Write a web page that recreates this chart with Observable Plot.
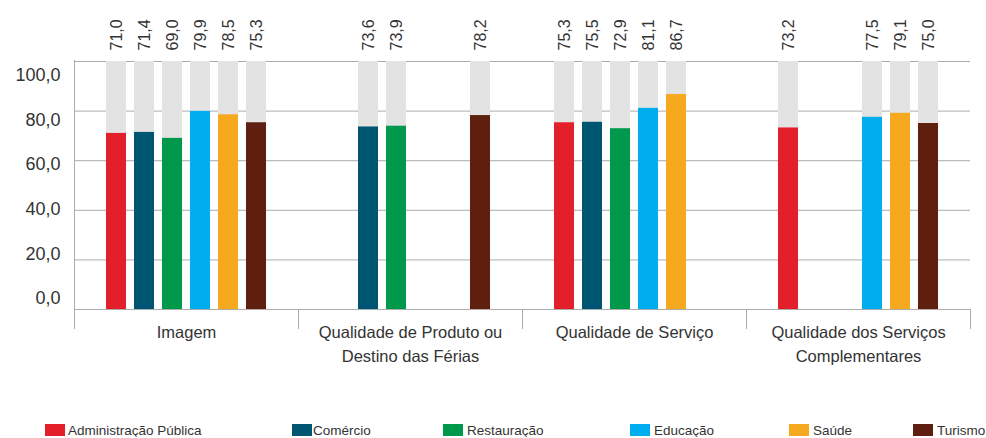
<!DOCTYPE html>
<html>
<head>
<meta charset="utf-8">
<script src="https://cdn.jsdelivr.net/npm/d3@7"></script>
<script src="https://cdn.jsdelivr.net/npm/@observablehq/plot@0.6"></script>
<style>
  body { margin: 0; background: #fff; font-family: "Liberation Sans", Arial, sans-serif; overflow: hidden; }
  #chart { width: 986px; }
  .legend { display: flex; align-items: center; margin: 51px 0 0 45px; font-size: 13.5px; line-height: 13px; color: #333; height: 14px; }
  .legend .item { display: flex; align-items: center; white-space: nowrap; }
  .legend .item:nth-child(1) { width: 247px; }
  .legend .item:nth-child(2) { width: 151px; }
  .legend .item:nth-child(3) { width: 187px; }
  .legend .item:nth-child(4) { width: 159px; }
  .legend .item:nth-child(5) { width: 124px; }
  .legend .sw { width: 20px; height: 12px; margin-right: 4px; display: inline-block; }
  .legend .item:nth-child(1) .sw { margin-right: 3px; }
  .legend .item:nth-child(2) .sw { margin-right: 1px; }
</style>
</head>
<body>
<div id="chart"></div>
<script>
// ---- data ----
const groups = [
  "Imagem",
  "Qualidade de Produto ou Destino das Férias",
  "Qualidade de Serviço",
  "Qualidade dos Serviços Complementares"
];
const groupLabels = [
  "Imagem",
  "Qualidade de Produto ou\nDestino das Férias",
  "Qualidade de Serviço",
  "Qualidade dos Serviços\nComplementares"
];
const series = ["Administração Pública", "Comércio", "Restauração", "Educação", "Saúde", "Turismo"];
const colors = ["#e3202a", "#005573", "#00984a", "#00aeef", "#f6a81f", "#5e1f10"];

const administracaoPublica = [71.0, null, 75.3, 73.2];
const comercio             = [71.4, 73.6, 75.5, null];
const restauracao          = [69.0, 73.9, 72.9, null];
const educacao             = [79.9, null, 81.1, 77.5];
const saude                = [78.5, null, 86.7, 79.1];
const turismo              = [75.3, 78.2, null, 75.0];

const yTicks = [0, 20, 40, 60, 80, 100];
const yMax = 100;

// ---- build table ----
const seriesValues = [administracaoPublica, comercio, restauracao, educacao, saude, turismo];
const rows = [];
groups.forEach((g, gi) => {
  series.forEach((s, si) => {
    const v = seriesValues[si][gi];
    if (v != null) rows.push({group: g, series: s, value: v});
  });
});

const fmt = v => v.toFixed(1).replace(".", ",");
const H = 372, MT = 61, MB = 63;
const plotH = H - MT - MB;
const gridColor = "#ababab";
// the original's tick labels sit on a slightly compressed, offset ladder relative to the gridlines
const labelLadder = v => 4.4 + 0.9 * v;

const chart = Plot.plot({
  width: 986,
  height: H,
  marginLeft: 73,
  marginRight: 16,
  marginTop: MT,
  marginBottom: MB,
  style: {fontFamily: "'Liberation Sans', Arial, sans-serif", fontSize: "16px", color: "#333", background: "#fff"},
  fx: {domain: groups, padding: 0, label: null},
  x: {domain: series, paddingInner: 0.2857, paddingOuter: 1.14, axis: null},
  y: {domain: [0, yMax], label: null, axis: null},
  color: {domain: series, range: colors},
  marks: [
    Plot.gridY(yTicks, {stroke: gridColor, strokeOpacity: 1}),
    Plot.text(yTicks, {fx: () => groups[0], y: labelLadder, text: fmt, frameAnchor: "left",
                       textAnchor: "end", dx: -14, fontSize: 18, fill: "#333"}),
    Plot.axisFx({anchor: "bottom", tickSize: 0, tickPadding: 12, fontSize: 16.5, lineHeight: 1.42, label: null,
                 tickFormat: g => groupLabels[groups.indexOf(g)], fill: "#333"}),
    Plot.barY(rows, {fx: "group", x: "series", y1: 0, y2: () => yMax, fill: "#e3e3e3"}),
    Plot.barY(rows, {fx: "group", x: "series", y: "value", fill: "series"}),
    Plot.text(rows, {fx: "group", x: "series", y: () => yMax, text: d => fmt(d.value), rotate: -90,
                     textAnchor: "start", dy: -11, fontSize: 16, fill: "#333"}),
    Plot.frame({anchor: "left", insetTop: plotH, insetBottom: -19, stroke: gridColor}),
    Plot.frame({anchor: "right", insetTop: plotH, insetBottom: -19, stroke: gridColor}),
    Plot.frame({anchor: "left", facet: "super", insetTop: -1, insetBottom: -19, stroke: gridColor})
  ]
});
document.getElementById("chart").appendChild(chart);

// ---- legend ----
const legend = d3.select("body").append("div").attr("class", "legend");
series.forEach((s, i) => {
  const item = legend.append("div").attr("class", "item");
  item.append("span").attr("class", "sw").style("background", colors[i]);
  item.append("span").text(s);
});
</script>
</body>
</html>
